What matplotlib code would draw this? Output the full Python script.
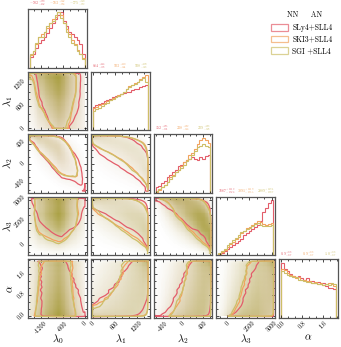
import math

import numpy as np
import matplotlib
matplotlib.use('Agg')
import matplotlib.pyplot as plt
from matplotlib.colors import ListedColormap, to_rgb
from matplotlib.patches import Patch
from matplotlib.ticker import AutoMinorLocator, FixedLocator

plt.rcParams['font.family'] = 'cmr10'
plt.rcParams['mathtext.fontset'] = 'cm'
plt.rcParams['axes.formatter.use_mathtext'] = True

# series (NN + AN combination)
names = ['SLy4+SLL4', 'SKI3+SLL4', 'SGI +SLL4']
line_colors = ['#e35d6a', '#f2a35e', '#cdbf68']
shade_colors = ['#c97f78', '#e3a872', '#a29b35']

# parameters
labels = [r'$\lambda_0$', r'$\lambda_1$', r'$\lambda_2$', r'$\lambda_3$', r'$\alpha$']
ranges = [(-1500, 0), (0, 1500), (-550, 550), (-1000, 5200), (0, 2.1)]
ticks = [[-1200, -600, 0], [0, 600, 1200], [-400, 0, 400], [0, 2500, 5000], [0.0, 0.8, 1.6]]
tick_fmt = ['%d', '%d', '%d', '%d', '%.1f']

# marginal histograms (20 bins across each range), order: SLy4, SKI3, SGI
lam0_hist = [
    [0.2, 0.25, 0.35, 0.45, 0.5, 0.55, 0.62, 0.72, 0.8, 0.88, 0.95, 1.0, 0.85, 0.75, 0.65, 0.6, 0.55, 0.5, 0.42, 0.25],
    [0.22, 0.3, 0.42, 0.55, 0.6, 0.65, 0.72, 0.8, 0.88, 0.92, 1.0, 0.95, 0.8, 0.7, 0.6, 0.5, 0.42, 0.32, 0.25, 0.18],
    [0.25, 0.3, 0.45, 0.55, 0.55, 0.65, 0.75, 0.8, 0.85, 0.95, 1.0, 0.9, 0.8, 0.65, 0.55, 0.45, 0.4, 0.3, 0.25, 0.15],
]
lam1_hist = [
    [0.42, 0.45, 0.48, 0.5, 0.52, 0.55, 0.57, 0.6, 0.62, 0.62, 0.65, 0.68, 0.7, 0.7, 0.72, 0.74, 0.75, 0.78, 0.8, 0.82],
    [0.4, 0.42, 0.46, 0.48, 0.5, 0.52, 0.55, 0.58, 0.6, 0.64, 0.66, 0.7, 0.74, 0.8, 0.82, 0.85, 0.88, 0.92, 0.97, 1.0],
    [0.35, 0.38, 0.4, 0.44, 0.48, 0.5, 0.54, 0.56, 0.6, 0.62, 0.66, 0.7, 0.75, 0.78, 0.82, 0.84, 0.88, 0.9, 0.95, 0.88],
]
lam2_hist = [
    [0.1, 0.12, 0.18, 0.22, 0.28, 0.32, 0.38, 0.42, 0.48, 0.5, 0.55, 0.6, 0.62, 0.65, 0.62, 0.6, 0.65, 0.62, 0.66, 0.68],
    [0.02, 0.05, 0.1, 0.15, 0.2, 0.28, 0.32, 0.38, 0.42, 0.48, 0.55, 0.6, 0.68, 0.72, 0.8, 0.88, 0.95, 1.0, 0.95, 0.9],
    [0.03, 0.06, 0.1, 0.15, 0.2, 0.25, 0.3, 0.38, 0.42, 0.45, 0.5, 0.58, 0.62, 0.68, 0.75, 0.82, 0.85, 0.88, 0.85, 0.82],
]
lam3_hist = [
    [0.02, 0.04, 0.08, 0.12, 0.16, 0.18, 0.22, 0.26, 0.3, 0.36, 0.4, 0.44, 0.48, 0.52, 0.55, 0.62, 0.78, 0.85, 0.95, 1.0],
    [0.03, 0.06, 0.1, 0.15, 0.2, 0.24, 0.3, 0.34, 0.4, 0.44, 0.5, 0.52, 0.55, 0.58, 0.62, 0.6, 0.57, 0.55, 0.56, 0.58],
    [0.04, 0.08, 0.12, 0.18, 0.22, 0.28, 0.32, 0.36, 0.42, 0.45, 0.48, 0.5, 0.54, 0.56, 0.58, 0.55, 0.54, 0.53, 0.54, 0.55],
]
alpha_hist = [
    [0.95, 0.85, 0.8, 0.75, 0.72, 0.7, 0.72, 0.68, 0.65, 0.68, 0.62, 0.63, 0.6, 0.62, 0.58, 0.6, 0.55, 0.52, 0.52, 0.5],
    [0.85, 0.82, 0.78, 0.74, 0.72, 0.68, 0.7, 0.66, 0.65, 0.64, 0.63, 0.6, 0.62, 0.58, 0.6, 0.56, 0.58, 0.6, 0.58, 0.55],
    [0.8, 0.78, 0.74, 0.72, 0.7, 0.7, 0.66, 0.66, 0.64, 0.62, 0.62, 0.6, 0.6, 0.58, 0.58, 0.56, 0.58, 0.56, 0.6, 0.58],
]
hists = [lam0_hist, lam1_hist, lam2_hist, lam3_hist, alpha_hist]

# pairwise correlation (gaussian copula) per series, key = (x param, y param)
rho = {
    (0, 1): [-0.05, -0.1, -0.1],
    (0, 2): [-0.6, -0.65, -0.65],
    (1, 2): [-0.5, -0.55, -0.55],
    (0, 3): [0.0, 0.0, 0.0],
    (1, 3): [-0.45, -0.4, -0.4],
    (2, 3): [-0.5, -0.45, -0.45],
    (0, 4): [-0.15, 0.05, 0.0],
    (1, 4): [0.35, 0.25, 0.2],
    (2, 4): [0.25, 0.15, 0.15],
    (3, 4): [0.2, 0.15, 0.15],
}

# inverse normal cdf table
zt = np.linspace(-4, 4, 2001)
ut = 0.5 * (1 + np.array([math.erf(z / math.sqrt(2)) for z in zt]))


def marginal(h, lo, hi, n=70):
    h = np.asarray(h, float)
    edges = np.linspace(lo, hi, len(h) + 1)
    centers = 0.5 * (edges[1:] + edges[:-1])
    x = np.linspace(lo, hi, n)
    f = np.interp(x, centers, h)
    f = f / f.sum()
    u = np.cumsum(f) - 0.5 * f
    z = np.interp(u, ut, zt)
    # pad one zero cell on each side so contours close at the prior edges
    dx = x[1] - x[0]
    x = np.concatenate([[x[0] - dx], x, [x[-1] + dx]])
    f = np.concatenate([[0], f, [0]])
    z = np.concatenate([[0], z, [0]])
    return x, f, z


def density2d(i, j, s):
    x, fx, zx = marginal(hists[i][s], *ranges[i])
    y, fy, zy = marginal(hists[j][s], *ranges[j])
    r = rho[(i, j)][s]
    ZX, ZY = np.meshgrid(zx, zy)
    c = np.exp(-(r ** 2 * (ZX ** 2 + ZY ** 2) - 2 * r * ZX * ZY) / (2 * (1 - r ** 2)))
    d = fy[:, None] * fx[None, :] * c
    return x, y, d / d.sum()


def level(d, frac=0.8):
    v = np.sort(d.ravel())[::-1]
    cs = np.cumsum(v)
    return v[np.searchsorted(cs, frac * cs[-1])]


def summary(h, lo, hi):
    h = np.asarray(h, float)
    edges = np.linspace(lo, hi, len(h) + 1)
    cdf = np.concatenate([[0], np.cumsum(h)]) / h.sum()
    q16, q50, q84 = np.interp([0.16, 0.5, 0.84], cdf, edges)
    return q50, q84 - q50, q50 - q16


def shade_cmap(color, amax, gamma):
    rgb = to_rgb(color)
    a = amax * np.linspace(0, 1, 256) ** gamma
    return ListedColormap([(*rgb, v) for v in a])


W, H = 341, 347
fig = plt.figure(figsize=(W / 100, H / 100), dpi=100)
n = 5
left, right, top, bottom, gap = 28, 338, 9, 318, 4
pw = (right - left - gap * (n - 1)) / n
ph = (bottom - top - gap * (n - 1)) / n


def lims(k):
    lo, hi = ranges[k]
    pad = 0.035 * (hi - lo)
    return lo - pad, hi + pad


for row in range(n):
    for col in range(row + 1):
        x0 = left + col * (pw + gap)
        y0 = top + row * (ph + gap)
        ax = fig.add_axes([x0 / W, 1 - (y0 + ph) / H, pw / W, ph / H])
        if row == col:
            lo, hi = ranges[col]
            top_val = 0
            for s in range(3):
                h = np.asarray(hists[col][s])
                edges = np.linspace(lo, hi, len(h) + 1)
                ax.stairs(h, edges, color=line_colors[s], lw=0.8)
                top_val = max(top_val, h.max())
                med, up, dn = summary(h, lo, hi)
                if col == 4:
                    txt = r'$%.1f^{+%.1f}_{-%.1f}$' % (med, up, dn)
                else:
                    txt = r'$%d^{+%d}_{-%d}$' % (med, up, dn)
                ax.text([0.02, 0.5, 0.98][s], 1.015, txt, transform=ax.transAxes,
                        ha=['left', 'center', 'right'][s], va='bottom',
                        fontsize=2.8, color=line_colors[s])
            ax.set_ylim(0, top_val * 1.06)
            ax.set_yticks([])
        else:
            for s in range(3):
                x, y, d = density2d(col, row, s)
                cmap = shade_cmap(shade_colors[s], [0.32, 0.25, 0.88][s], 1.15)
                ax.pcolormesh(x, y, d, cmap=cmap, vmin=0, vmax=d.max(),
                              shading='nearest', rasterized=True)
            for s in range(3):
                x, y, d = density2d(col, row, s)
                ax.contour(x, y, d, levels=[level(d)], colors=[line_colors[s]],
                           linewidths=0.9)
            ax.set_ylim(*lims(row))
            ax.yaxis.set_major_locator(FixedLocator(ticks[row]))
            ax.yaxis.set_minor_locator(AutoMinorLocator(3))
        ax.set_xlim(*lims(col))
        ax.xaxis.set_major_locator(FixedLocator(ticks[col]))
        ax.xaxis.set_minor_locator(AutoMinorLocator(3))
        ax.tick_params(which='both', direction='in', top=True, right=True,
                       labelsize=4.5, width=0.5, pad=1.5)
        ax.tick_params(which='major', length=2.2)
        ax.tick_params(which='minor', length=1.2)
        for sp in ax.spines.values():
            sp.set_linewidth(0.9)
            sp.set_color('#555555')
        if row == n - 1:
            ax.set_xticklabels([tick_fmt[col] % t for t in ticks[col]],
                               rotation=45, ha='center')
            ax.set_xlabel(labels[col], fontsize=7.5)
            ax.xaxis.set_label_coords(0.5, -0.25)
        else:
            ax.set_xticklabels([])
        if col == 0 and row > 0:
            ax.set_yticklabels([tick_fmt[row] % t for t in ticks[row]],
                               rotation=45, va='center')
            ax.set_ylabel(labels[row], fontsize=7.5)
            ax.yaxis.set_label_coords(-0.22, 0.5)
        elif row != col:
            ax.set_yticklabels([])

handles = [Patch(facecolor='none', edgecolor=c, alpha=0.7, lw=0.9) for c in line_colors]
fig.text(305 / W, 1 - 15 / H, 'NN     AN', fontsize=5.5, ha='center', va='center')
fig.legend(handles, names, loc='upper right', bbox_to_anchor=(338 / W, 1 - 18 / H),
           frameon=False, fontsize=5.5, handlelength=2.2, handleheight=1.0,
           handletextpad=0.6, labelspacing=0.45, borderpad=0.2)

fig.savefig('out.png', dpi=100)
